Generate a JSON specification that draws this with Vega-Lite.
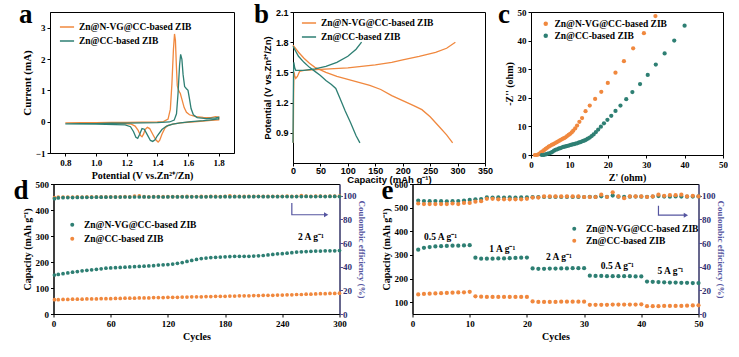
{
  "$schema": "https://vega.github.io/schema/vega-lite/v6.json",
  "padding": {"left": 12, "top": 0, "right": 0, "bottom": 0},
  "background": "white",
  "config": {
    "view": {"stroke": "black", "strokeWidth": 1},
    "font": "Liberation Serif",
    "axis": {"grid": false, "domainColor": "black", "tickColor": "black", "labelColor": "black", "titleColor": "black", "labelFont": "Liberation Serif", "titleFont": "Liberation Serif", "labelFontWeight": "bold", "titleFontWeight": "bold", "labelFontSize": 9, "titleFontSize": 10, "tickSize": 3, "labelPadding": 2, "titlePadding": 3, "labelFlush": false, "labelOverlap": false},
    "legend": {"orient": "none", "labelFont": "Liberation Serif", "labelFontWeight": "bold", "labelFontSize": 9.5, "labelColor": "black", "padding": 0, "rowPadding": 1, "labelOffset": 4},
    "text": {"font": "Liberation Serif", "fontWeight": "bold", "fontSize": 9.5, "color": "black"}
  },
  "datasets": {
    "cv": [
      {"s":"N","i":0,"v":0.80,"a":-0.04},{"s":"N","i":1,"v":0.90,"a":-0.035},{"s":"N","i":2,"v":1.00,"a":-0.03},{"s":"N","i":3,"v":1.10,"a":-0.025},{"s":"N","i":4,"v":1.20,"a":-0.02},{"s":"N","i":5,"v":1.30,"a":-0.015},{"s":"N","i":6,"v":1.40,"a":-0.01},{"s":"N","i":7,"v":1.44,"a":0.0},{"s":"N","i":8,"v":1.47,"a":0.08},{"s":"N","i":9,"v":1.485,"a":0.4},{"s":"N","i":10,"v":1.495,"a":1.2},{"s":"N","i":11,"v":1.505,"a":2.3},{"s":"N","i":12,"v":1.512,"a":2.8},{"s":"N","i":13,"v":1.518,"a":2.6},{"s":"N","i":14,"v":1.524,"a":1.8},{"s":"N","i":15,"v":1.53,"a":1.15},{"s":"N","i":16,"v":1.54,"a":0.98},{"s":"N","i":17,"v":1.55,"a":0.9},{"s":"N","i":18,"v":1.56,"a":0.72},{"s":"N","i":19,"v":1.575,"a":0.45},{"s":"N","i":20,"v":1.59,"a":0.3},{"s":"N","i":21,"v":1.61,"a":0.22},{"s":"N","i":22,"v":1.65,"a":0.16},{"s":"N","i":23,"v":1.70,"a":0.14},{"s":"N","i":24,"v":1.75,"a":0.13},{"s":"N","i":25,"v":1.78,"a":0.16},{"s":"N","i":26,"v":1.80,"a":0.15},
      {"s":"N","i":27,"v":1.80,"a":0.06},{"s":"N","i":28,"v":1.75,"a":0.04},{"s":"N","i":29,"v":1.70,"a":0.02},{"s":"N","i":30,"v":1.62,"a":-0.01},{"s":"N","i":31,"v":1.55,"a":-0.04},{"s":"N","i":32,"v":1.50,"a":-0.08},{"s":"N","i":33,"v":1.47,"a":-0.12},{"s":"N","i":34,"v":1.45,"a":-0.2},{"s":"N","i":35,"v":1.43,"a":-0.4},{"s":"N","i":36,"v":1.415,"a":-0.6},{"s":"N","i":37,"v":1.405,"a":-0.65},{"s":"N","i":38,"v":1.39,"a":-0.58},{"s":"N","i":39,"v":1.37,"a":-0.4},{"s":"N","i":40,"v":1.35,"a":-0.22},{"s":"N","i":41,"v":1.335,"a":-0.18},{"s":"N","i":42,"v":1.32,"a":-0.25},{"s":"N","i":43,"v":1.31,"a":-0.4},{"s":"N","i":44,"v":1.30,"a":-0.48},{"s":"N","i":45,"v":1.29,"a":-0.44},{"s":"N","i":46,"v":1.275,"a":-0.28},{"s":"N","i":47,"v":1.255,"a":-0.14},{"s":"N","i":48,"v":1.23,"a":-0.08},{"s":"N","i":49,"v":1.15,"a":-0.05},{"s":"N","i":50,"v":1.0,"a":-0.045},{"s":"N","i":51,"v":0.8,"a":-0.04},
      {"s":"C","i":0,"v":0.80,"a":-0.07},{"s":"C","i":1,"v":0.90,"a":-0.065},{"s":"C","i":2,"v":1.00,"a":-0.06},{"s":"C","i":3,"v":1.10,"a":-0.05},{"s":"C","i":4,"v":1.20,"a":-0.045},{"s":"C","i":5,"v":1.30,"a":-0.04},{"s":"C","i":6,"v":1.40,"a":-0.03},{"s":"C","i":7,"v":1.48,"a":-0.01},{"s":"C","i":8,"v":1.51,"a":0.05},{"s":"C","i":9,"v":1.525,"a":0.25},{"s":"C","i":10,"v":1.535,"a":0.9},{"s":"C","i":11,"v":1.545,"a":1.8},{"s":"C","i":12,"v":1.552,"a":2.15},{"s":"C","i":13,"v":1.56,"a":2.0},{"s":"C","i":14,"v":1.568,"a":1.5},{"s":"C","i":15,"v":1.578,"a":1.12},{"s":"C","i":16,"v":1.59,"a":1.05},{"s":"C","i":17,"v":1.60,"a":1.0},{"s":"C","i":18,"v":1.61,"a":0.72},{"s":"C","i":19,"v":1.62,"a":0.42},{"s":"C","i":20,"v":1.635,"a":0.22},{"s":"C","i":21,"v":1.66,"a":0.13},{"s":"C","i":22,"v":1.72,"a":0.1},{"s":"C","i":23,"v":1.78,"a":0.12},{"s":"C","i":24,"v":1.80,"a":0.14},
      {"s":"C","i":25,"v":1.80,"a":0.09},{"s":"C","i":26,"v":1.75,"a":0.06},{"s":"C","i":27,"v":1.70,"a":0.03},{"s":"C","i":28,"v":1.62,"a":0.0},{"s":"C","i":29,"v":1.55,"a":-0.04},{"s":"C","i":30,"v":1.50,"a":-0.08},{"s":"C","i":31,"v":1.46,"a":-0.14},{"s":"C","i":32,"v":1.43,"a":-0.25},{"s":"C","i":33,"v":1.40,"a":-0.45},{"s":"C","i":34,"v":1.385,"a":-0.58},{"s":"C","i":35,"v":1.37,"a":-0.63},{"s":"C","i":36,"v":1.355,"a":-0.6},{"s":"C","i":37,"v":1.335,"a":-0.42},{"s":"C","i":38,"v":1.315,"a":-0.24},{"s":"C","i":39,"v":1.30,"a":-0.22},{"s":"C","i":40,"v":1.285,"a":-0.4},{"s":"C","i":41,"v":1.272,"a":-0.53},{"s":"C","i":42,"v":1.26,"a":-0.5},{"s":"C","i":43,"v":1.245,"a":-0.32},{"s":"C","i":44,"v":1.225,"a":-0.16},{"s":"C","i":45,"v":1.19,"a":-0.1},{"s":"C","i":46,"v":1.0,"a":-0.08},{"s":"C","i":47,"v":0.8,"a":-0.07}
    ],
    "gcd": [
      {"g":"N1","s":"N","x":0.5,"y":0.8},{"g":"N1","s":"N","x":1,"y":1.2},{"g":"N1","s":"N","x":1.5,"y":1.45},{"g":"N1","s":"N","x":2,"y":1.5},{"g":"N1","s":"N","x":3,"y":1.47},{"g":"N1","s":"N","x":5,"y":1.44},{"g":"N1","s":"N","x":8,"y":1.46},{"g":"N1","s":"N","x":12,"y":1.51},{"g":"N1","s":"N","x":20,"y":1.52},{"g":"N1","s":"N","x":50,"y":1.53},{"g":"N1","s":"N","x":100,"y":1.545},{"g":"N1","s":"N","x":150,"y":1.575},{"g":"N1","s":"N","x":180,"y":1.6},{"g":"N1","s":"N","x":200,"y":1.625},{"g":"N1","s":"N","x":230,"y":1.66},{"g":"N1","s":"N","x":260,"y":1.7},{"g":"N1","s":"N","x":280,"y":1.74},{"g":"N1","s":"N","x":296,"y":1.8},
      {"g":"N2","s":"N","x":0,"y":1.77},{"g":"N2","s":"N","x":10,"y":1.7},{"g":"N2","s":"N","x":20,"y":1.64},{"g":"N2","s":"N","x":30,"y":1.59},{"g":"N2","s":"N","x":40,"y":1.55},{"g":"N2","s":"N","x":60,"y":1.5},{"g":"N2","s":"N","x":80,"y":1.46},{"g":"N2","s":"N","x":100,"y":1.43},{"g":"N2","s":"N","x":120,"y":1.4},{"g":"N2","s":"N","x":140,"y":1.37},{"g":"N2","s":"N","x":160,"y":1.33},{"g":"N2","s":"N","x":180,"y":1.27},{"g":"N2","s":"N","x":200,"y":1.22},{"g":"N2","s":"N","x":220,"y":1.17},{"g":"N2","s":"N","x":235,"y":1.13},{"g":"N2","s":"N","x":250,"y":1.06},{"g":"N2","s":"N","x":265,"y":0.97},{"g":"N2","s":"N","x":280,"y":0.88},{"g":"N2","s":"N","x":291,"y":0.8},
      {"g":"C1","s":"C","x":0,"y":0.8},{"g":"C1","s":"C","x":0.5,"y":1.2},{"g":"C1","s":"C","x":1,"y":1.5},{"g":"C1","s":"C","x":1.5,"y":1.6},{"g":"C1","s":"C","x":3,"y":1.55},{"g":"C1","s":"C","x":5,"y":1.52},{"g":"C1","s":"C","x":20,"y":1.52},{"g":"C1","s":"C","x":40,"y":1.535},{"g":"C1","s":"C","x":60,"y":1.56},{"g":"C1","s":"C","x":80,"y":1.6},{"g":"C1","s":"C","x":100,"y":1.66},{"g":"C1","s":"C","x":115,"y":1.73},{"g":"C1","s":"C","x":125,"y":1.8},
      {"g":"C2","s":"C","x":0,"y":1.76},{"g":"C2","s":"C","x":10,"y":1.66},{"g":"C2","s":"C","x":20,"y":1.6},{"g":"C2","s":"C","x":30,"y":1.55},{"g":"C2","s":"C","x":40,"y":1.51},{"g":"C2","s":"C","x":50,"y":1.47},{"g":"C2","s":"C","x":60,"y":1.42},{"g":"C2","s":"C","x":70,"y":1.38},{"g":"C2","s":"C","x":78,"y":1.34},{"g":"C2","s":"C","x":85,"y":1.25},{"g":"C2","s":"C","x":95,"y":1.12},{"g":"C2","s":"C","x":105,"y":1.0},{"g":"C2","s":"C","x":115,"y":0.87},{"g":"C2","s":"C","x":122,"y":0.8}
    ],
    "eis": [
      {"s":"N","x":1.0,"y":0},{"s":"N","x":1.4,"y":0},{"s":"N","x":1.8,"y":0.1},{"s":"N","x":2.2,"y":0.5},{"s":"N","x":2.6,"y":0.9},{"s":"N","x":3.0,"y":1.3},{"s":"N","x":3.4,"y":1.7},{"s":"N","x":3.8,"y":2.1},{"s":"N","x":4.2,"y":2.5},{"s":"N","x":4.6,"y":2.9},{"s":"N","x":5.0,"y":3.2},{"s":"N","x":5.4,"y":3.5},{"s":"N","x":5.8,"y":3.8},{"s":"N","x":6.2,"y":4.1},{"s":"N","x":6.6,"y":4.4},{"s":"N","x":7.0,"y":4.7},{"s":"N","x":7.4,"y":5.0},{"s":"N","x":7.8,"y":5.3},{"s":"N","x":8.2,"y":5.6},{"s":"N","x":8.6,"y":5.9},{"s":"N","x":9.0,"y":6.2},{"s":"N","x":9.4,"y":6.6},{"s":"N","x":9.8,"y":7.0},{"s":"N","x":10.2,"y":7.4},{"s":"N","x":10.6,"y":7.9},{"s":"N","x":11.0,"y":8.5},{"s":"N","x":11.5,"y":9.3},{"s":"N","x":12.0,"y":10.3},{"s":"N","x":12.6,"y":11.6},{"s":"N","x":13.3,"y":12.9},{"s":"N","x":14.2,"y":15.3},{"s":"N","x":15.3,"y":17.3},{"s":"N","x":16.7,"y":19.6},{"s":"N","x":18.3,"y":22.1},{"s":"N","x":20.0,"y":25.2},{"s":"N","x":22.0,"y":28.8},{"s":"N","x":24.2,"y":32.8},{"s":"N","x":26.6,"y":37.3},{"s":"N","x":29.4,"y":42.6},{"s":"N","x":32.4,"y":48.6},
      {"s":"C","x":2.8,"y":0},{"s":"C","x":3.2,"y":0},{"s":"C","x":3.6,"y":0.1},{"s":"C","x":4.0,"y":0.3},{"s":"C","x":4.4,"y":0.5},{"s":"C","x":4.8,"y":0.6},{"s":"C","x":5.2,"y":0.8},{"s":"C","x":5.6,"y":1.1},{"s":"C","x":6.0,"y":1.5},{"s":"C","x":6.4,"y":1.8},{"s":"C","x":6.8,"y":2.0},{"s":"C","x":7.2,"y":2.2},{"s":"C","x":7.6,"y":2.4},{"s":"C","x":8.0,"y":2.6},{"s":"C","x":8.4,"y":2.8},{"s":"C","x":8.8,"y":2.9},{"s":"C","x":9.2,"y":3.1},{"s":"C","x":9.6,"y":3.2},{"s":"C","x":10.0,"y":3.4},{"s":"C","x":10.4,"y":3.5},{"s":"C","x":10.8,"y":3.7},{"s":"C","x":11.2,"y":3.8},{"s":"C","x":11.6,"y":4.0},{"s":"C","x":12.0,"y":4.1},{"s":"C","x":12.4,"y":4.3},{"s":"C","x":12.8,"y":4.5},{"s":"C","x":13.2,"y":4.7},{"s":"C","x":13.6,"y":4.9},{"s":"C","x":14.0,"y":5.1},{"s":"C","x":14.4,"y":5.4},{"s":"C","x":14.8,"y":5.7},{"s":"C","x":15.3,"y":6.1},{"s":"C","x":15.8,"y":6.6},{"s":"C","x":16.3,"y":7.2},{"s":"C","x":16.9,"y":8.0},{"s":"C","x":17.5,"y":8.9},{"s":"C","x":18.2,"y":9.9},{"s":"C","x":19.0,"y":11.1},{"s":"C","x":19.9,"y":12.3},{"s":"C","x":20.9,"y":13.7},{"s":"C","x":22.0,"y":15.4},{"s":"C","x":23.3,"y":17.3},{"s":"C","x":24.8,"y":19.5},{"s":"C","x":26.4,"y":22.0},{"s":"C","x":28.4,"y":24.8},{"s":"C","x":30.4,"y":28.0},{"s":"C","x":32.5,"y":31.6},{"s":"C","x":34.8,"y":35.5},{"s":"C","x":37.3,"y":40.0},{"s":"C","x":40.0,"y":45.2}
    ],
    "cyc": [
      {"s":"C","c":1,"cap":55,"ce":98.4},{"s":"C","c":5,"cap":55,"ce":98.8},{"s":"C","c":10,"cap":56,"ce":98.9},{"s":"C","c":15,"cap":56,"ce":99.0},{"s":"C","c":20,"cap":57,"ce":99.0},{"s":"C","c":25,"cap":57,"ce":99.1},{"s":"C","c":30,"cap":57,"ce":99.0},{"s":"C","c":35,"cap":58,"ce":99.1},{"s":"C","c":40,"cap":58,"ce":99.1},{"s":"C","c":45,"cap":58,"ce":99.2},
      {"s":"C","c":50,"cap":59,"ce":99.1},{"s":"C","c":55,"cap":59,"ce":99.2},{"s":"C","c":60,"cap":59,"ce":99.2},{"s":"C","c":65,"cap":60,"ce":99.1},{"s":"C","c":70,"cap":60,"ce":99.2},{"s":"C","c":75,"cap":61,"ce":99.3},{"s":"C","c":80,"cap":61,"ce":99.2},{"s":"C","c":85,"cap":61,"ce":99.8},{"s":"C","c":90,"cap":62,"ce":99.9},{"s":"C","c":95,"cap":62,"ce":99.3},
      {"s":"C","c":100,"cap":62,"ce":99.2},{"s":"C","c":105,"cap":63,"ce":99.3},{"s":"C","c":110,"cap":63,"ce":99.4},{"s":"C","c":115,"cap":63,"ce":99.3},{"s":"C","c":120,"cap":64,"ce":99.4},{"s":"C","c":125,"cap":64,"ce":99.3},{"s":"C","c":130,"cap":64,"ce":99.4},{"s":"C","c":135,"cap":65,"ce":99.4},{"s":"C","c":140,"cap":65,"ce":99.5},{"s":"C","c":145,"cap":66,"ce":99.4},
      {"s":"C","c":150,"cap":66,"ce":99.4},{"s":"C","c":155,"cap":66,"ce":99.5},{"s":"C","c":160,"cap":67,"ce":99.4},{"s":"C","c":165,"cap":67,"ce":99.5},{"s":"C","c":170,"cap":68,"ce":99.5},{"s":"C","c":175,"cap":68,"ce":99.4},{"s":"C","c":180,"cap":68,"ce":99.5},{"s":"C","c":185,"cap":69,"ce":99.9},{"s":"C","c":190,"cap":69,"ce":99.5},{"s":"C","c":195,"cap":70,"ce":99.5},
      {"s":"C","c":200,"cap":70,"ce":99.5},{"s":"C","c":205,"cap":70,"ce":99.6},{"s":"C","c":210,"cap":71,"ce":99.5},{"s":"C","c":215,"cap":71,"ce":99.6},{"s":"C","c":220,"cap":72,"ce":99.6},{"s":"C","c":225,"cap":72,"ce":99.5},{"s":"C","c":230,"cap":72,"ce":99.6},{"s":"C","c":235,"cap":73,"ce":99.6},{"s":"C","c":240,"cap":73,"ce":99.6},{"s":"C","c":245,"cap":74,"ce":99.7},
      {"s":"C","c":250,"cap":74,"ce":99.6},{"s":"C","c":255,"cap":75,"ce":99.6},{"s":"C","c":260,"cap":75,"ce":100.1},{"s":"C","c":265,"cap":76,"ce":99.7},{"s":"C","c":270,"cap":76,"ce":99.6},{"s":"C","c":275,"cap":77,"ce":99.7},{"s":"C","c":280,"cap":78,"ce":99.7},{"s":"C","c":285,"cap":78,"ce":99.6},{"s":"C","c":290,"cap":79,"ce":99.7},{"s":"C","c":295,"cap":79,"ce":99.7},{"s":"C","c":300,"cap":80,"ce":99.7},
      {"s":"N","c":1,"cap":150,"ce":97.6},{"s":"N","c":5,"cap":152,"ce":98.2},{"s":"N","c":10,"cap":155,"ce":98.4},{"s":"N","c":15,"cap":158,"ce":98.5},{"s":"N","c":20,"cap":161,"ce":98.5},{"s":"N","c":25,"cap":163,"ce":98.6},{"s":"N","c":30,"cap":166,"ce":98.6},{"s":"N","c":35,"cap":168,"ce":98.7},{"s":"N","c":40,"cap":170,"ce":98.7},{"s":"N","c":45,"cap":172,"ce":98.8},
      {"s":"N","c":50,"cap":174,"ce":98.8},{"s":"N","c":55,"cap":176,"ce":98.8},{"s":"N","c":60,"cap":177,"ce":98.9},{"s":"N","c":65,"cap":178,"ce":98.9},{"s":"N","c":70,"cap":179,"ce":98.9},{"s":"N","c":75,"cap":180,"ce":99.0},{"s":"N","c":80,"cap":181,"ce":98.9},{"s":"N","c":85,"cap":182,"ce":99.0},{"s":"N","c":90,"cap":183,"ce":99.0},{"s":"N","c":95,"cap":184,"ce":99.1},
      {"s":"N","c":100,"cap":185,"ce":99.0},{"s":"N","c":105,"cap":186,"ce":99.1},{"s":"N","c":110,"cap":188,"ce":99.1},{"s":"N","c":115,"cap":189,"ce":99.0},{"s":"N","c":120,"cap":190,"ce":99.1},{"s":"N","c":125,"cap":192,"ce":99.2},{"s":"N","c":130,"cap":195,"ce":99.1},{"s":"N","c":135,"cap":198,"ce":99.2},{"s":"N","c":140,"cap":202,"ce":99.1},{"s":"N","c":145,"cap":206,"ce":99.2},
      {"s":"N","c":150,"cap":210,"ce":99.2},{"s":"N","c":155,"cap":213,"ce":99.1},{"s":"N","c":160,"cap":215,"ce":99.2},{"s":"N","c":165,"cap":217,"ce":99.3},{"s":"N","c":170,"cap":218,"ce":99.2},{"s":"N","c":175,"cap":219,"ce":99.2},{"s":"N","c":180,"cap":220,"ce":99.3},{"s":"N","c":185,"cap":221,"ce":99.2},{"s":"N","c":190,"cap":222,"ce":99.3},{"s":"N","c":195,"cap":222,"ce":99.3},
      {"s":"N","c":200,"cap":222,"ce":99.2},{"s":"N","c":205,"cap":222,"ce":99.3},{"s":"N","c":210,"cap":223,"ce":99.3},{"s":"N","c":215,"cap":224,"ce":99.4},{"s":"N","c":220,"cap":225,"ce":99.3},{"s":"N","c":225,"cap":227,"ce":99.3},{"s":"N","c":230,"cap":229,"ce":99.4},{"s":"N","c":235,"cap":231,"ce":99.3},{"s":"N","c":240,"cap":232,"ce":99.4},{"s":"N","c":245,"cap":234,"ce":99.4},
      {"s":"N","c":250,"cap":236,"ce":99.3},{"s":"N","c":255,"cap":238,"ce":99.4},{"s":"N","c":260,"cap":239,"ce":99.4},{"s":"N","c":265,"cap":240,"ce":99.5},{"s":"N","c":270,"cap":241,"ce":99.4},{"s":"N","c":275,"cap":242,"ce":99.4},{"s":"N","c":280,"cap":242,"ce":99.5},{"s":"N","c":285,"cap":243,"ce":99.4},{"s":"N","c":290,"cap":243,"ce":99.5},{"s":"N","c":295,"cap":243,"ce":99.5},{"s":"N","c":300,"cap":244,"ce":99.4}
    ],
    "rate": [
      {"s":"N","c":1,"cap":322,"ce":96.0},{"s":"N","c":2,"cap":330,"ce":95.6},{"s":"N","c":3,"cap":333,"ce":95.5},{"s":"N","c":4,"cap":336,"ce":95.6},{"s":"N","c":5,"cap":337,"ce":95.5},{"s":"N","c":6,"cap":338,"ce":95.4},{"s":"N","c":7,"cap":339,"ce":95.5},{"s":"N","c":8,"cap":339,"ce":95.6},{"s":"N","c":9,"cap":340,"ce":96.0},{"s":"N","c":10,"cap":341,"ce":96.5},
      {"s":"N","c":11,"cap":288,"ce":97.0},{"s":"N","c":12,"cap":284,"ce":97.3},{"s":"N","c":13,"cap":284,"ce":98.6},{"s":"N","c":14,"cap":284,"ce":98.5},{"s":"N","c":15,"cap":285,"ce":98.6},{"s":"N","c":16,"cap":285,"ce":98.5},{"s":"N","c":17,"cap":286,"ce":98.6},{"s":"N","c":18,"cap":287,"ce":98.5},{"s":"N","c":19,"cap":288,"ce":98.6},{"s":"N","c":20,"cap":289,"ce":98.6},
      {"s":"N","c":21,"cap":243,"ce":98.8},{"s":"N","c":22,"cap":241,"ce":98.9},{"s":"N","c":23,"cap":241,"ce":99.0},{"s":"N","c":24,"cap":242,"ce":99.0},{"s":"N","c":25,"cap":242,"ce":99.1},{"s":"N","c":26,"cap":243,"ce":99.0},{"s":"N","c":27,"cap":243,"ce":99.1},{"s":"N","c":28,"cap":244,"ce":99.0},{"s":"N","c":29,"cap":244,"ce":99.1},{"s":"N","c":30,"cap":244,"ce":99.0},
      {"s":"N","c":31,"cap":212,"ce":99.2},{"s":"N","c":32,"cap":211,"ce":99.1},{"s":"N","c":33,"cap":211,"ce":99.6},{"s":"N","c":34,"cap":210,"ce":99.2},{"s":"N","c":35,"cap":210,"ce":100.2},{"s":"N","c":36,"cap":210,"ce":99.3},{"s":"N","c":37,"cap":210,"ce":99.1},{"s":"N","c":38,"cap":210,"ce":99.3},{"s":"N","c":39,"cap":209,"ce":99.4},{"s":"N","c":40,"cap":209,"ce":99.3},
      {"s":"N","c":41,"cap":187,"ce":99.2},{"s":"N","c":42,"cap":186,"ce":99.4},{"s":"N","c":43,"cap":185,"ce":99.8},{"s":"N","c":44,"cap":184,"ce":99.4},{"s":"N","c":45,"cap":183,"ce":99.3},{"s":"N","c":46,"cap":183,"ce":99.5},{"s":"N","c":47,"cap":182,"ce":99.4},{"s":"N","c":48,"cap":182,"ce":99.3},{"s":"N","c":49,"cap":181,"ce":99.4},{"s":"N","c":50,"cap":181,"ce":99.5},
      {"s":"C","c":1,"cap":133,"ce":93.5},{"s":"C","c":2,"cap":135,"ce":93.0},{"s":"C","c":3,"cap":136,"ce":93.0},{"s":"C","c":4,"cap":137,"ce":93.0},{"s":"C","c":5,"cap":138,"ce":93.0},{"s":"C","c":6,"cap":139,"ce":93.0},{"s":"C","c":7,"cap":140,"ce":93.5},{"s":"C","c":8,"cap":141,"ce":93.0},{"s":"C","c":9,"cap":142,"ce":94.0},{"s":"C","c":10,"cap":144,"ce":94.0},
      {"s":"C","c":11,"cap":125,"ce":95.0},{"s":"C","c":12,"cap":123,"ce":95.5},{"s":"C","c":13,"cap":122,"ce":97.5},{"s":"C","c":14,"cap":122,"ce":97.5},{"s":"C","c":15,"cap":122,"ce":97.0},{"s":"C","c":16,"cap":122,"ce":97.0},{"s":"C","c":17,"cap":122,"ce":97.0},{"s":"C","c":18,"cap":122,"ce":97.0},{"s":"C","c":19,"cap":122,"ce":97.0},{"s":"C","c":20,"cap":122,"ce":97.5},
      {"s":"C","c":21,"cap":103,"ce":98.5},{"s":"C","c":22,"cap":101,"ce":98.5},{"s":"C","c":23,"cap":101,"ce":99.5},{"s":"C","c":24,"cap":101,"ce":99.5},{"s":"C","c":25,"cap":101,"ce":99.5},{"s":"C","c":26,"cap":102,"ce":99.5},{"s":"C","c":27,"cap":102,"ce":99.5},{"s":"C","c":28,"cap":102,"ce":99.5},{"s":"C","c":29,"cap":102,"ce":99.5},{"s":"C","c":30,"cap":102,"ce":99.0},
      {"s":"C","c":31,"cap":89,"ce":99.0},{"s":"C","c":32,"cap":89,"ce":99.0},{"s":"C","c":33,"cap":89,"ce":101.0},{"s":"C","c":34,"cap":89,"ce":99.0},{"s":"C","c":35,"cap":90,"ce":103.0},{"s":"C","c":36,"cap":90,"ce":99.5},{"s":"C","c":37,"cap":90,"ce":98.0},{"s":"C","c":38,"cap":90,"ce":99.5},{"s":"C","c":39,"cap":90,"ce":99.5},{"s":"C","c":40,"cap":91,"ce":99.5},
      {"s":"C","c":41,"cap":83,"ce":99.0},{"s":"C","c":42,"cap":83,"ce":99.5},{"s":"C","c":43,"cap":83,"ce":101.0},{"s":"C","c":44,"cap":84,"ce":100.0},{"s":"C","c":45,"cap":84,"ce":100.5},{"s":"C","c":46,"cap":84,"ce":100.5},{"s":"C","c":47,"cap":84,"ce":101.0},{"s":"C","c":48,"cap":85,"ce":99.5},{"s":"C","c":49,"cap":86,"ce":100.0},{"s":"C","c":50,"cap":87,"ce":99.5}
    ],
    "dann": [{"c":270,"cap":296,"t":"2 A g⁻¹"}],
    "darr": [{"k":0,"c":250,"ce":94},{"k":1,"c":250,"ce":84},{"k":2,"c":286,"ce":84}],
    "eann": [{"c":4.9,"cap":376,"t":"0.5 A g⁻¹"},{"c":15.7,"cap":326,"t":"1 A g⁻¹"},{"c":25.6,"cap":291,"t":"2 A g⁻¹"},{"c":35.8,"cap":251,"t":"0.5 A g⁻¹"},{"c":45.1,"cap":230,"t":"5 A g⁻¹"}],
    "earr": [{"k":0,"c":43,"ce":91.5},{"k":1,"c":43,"ce":83.6},{"k":2,"c":47.8,"ce":83.6}]
  },
  "spacing": -15,
  "center": true,
  "resolve": {"scale": {"color": "independent"}, "legend": {"color": "independent"}},
  "vconcat": [
    {
      "spacing": 18,
      "resolve": {"scale": {"color": "independent"}, "legend": {"color": "independent"}},
      "hconcat": [
        {
          "width": 184, "height": 141,
          "encoding": {
            "x": {"field": "v", "type": "quantitative", "scale": {"domain": [0.7, 1.9], "nice": false, "zero": false}, "axis": {"values": [0.8, 1.0, 1.2, 1.4, 1.6, 1.8], "format": ".1f", "title": "Potential (V vs.Zn²⁺/Zn)"}},
            "y": {"field": "a", "type": "quantitative", "scale": {"domain": [-1, 3.5], "nice": false, "zero": false}, "axis": {"values": [-1, 0, 1, 2, 3], "title": "Current (mA)", "titleFontSize": 11}}
          },
          "layer": [
            {
              "data": {"name": "cv"},
              "mark": {"type": "line", "strokeWidth": 1.3},
              "encoding": {
                "order": {"field": "i"},
                "color": {"field": "s", "type": "nominal", "scale": {"domain": ["N", "C"], "range": ["#F0883E", "#2E7F73"]}, "legend": {"title": null, "legendX": 9, "legendY": 7, "symbolType": "stroke", "symbolSize": 200, "symbolStrokeWidth": 1.5, "labelExpr": "datum.value == 'N' ? 'Zn@N-VG@CC-based ZIB' : 'Zn@CC-based ZIB'"}}
              }
            },
            {
              "data": {"values": [{"v": 0.498, "a": 3.147, "t": "a"}]},
              "mark": {"type": "text", "align": "left", "baseline": "alphabetic", "fontSize": 27, "fontWeight": "bold", "font": "Liberation Serif"},
              "encoding": {"text": {"field": "t"}}
            }
          ]
        },
        {
          "spacing": 3,
          "resolve": {"scale": {"color": "independent"}, "legend": {"color": "independent"}},
          "hconcat": [
            {
              "width": 192, "height": 151,
              "encoding": {
                "x": {"field": "x", "type": "quantitative", "scale": {"domain": [0, 350], "nice": false}, "axis": {"values": [0, 50, 100, 150, 200, 250, 300, 350], "title": "Capacity (mAh g⁻¹)", "labelFont": "Liberation Sans", "titleFont": "Liberation Sans", "labelFontSize": 9, "titleFontSize": 9.5, "labelPadding": 0, "titlePadding": -1}},
                "y": {"field": "y", "type": "quantitative", "scale": {"domain": [0.6, 2.1], "nice": false, "zero": false}, "axis": {"values": [0.9, 1.2, 1.5, 1.8, 2.1], "format": ".1f", "title": "Potential (V vs.Zn²⁺/Zn)", "labelFont": "Liberation Sans", "titleFont": "Liberation Sans", "labelFontSize": 9, "titleFontSize": 9.5}}
              },
              "layer": [
                {
                  "data": {"name": "gcd"},
                  "mark": {"type": "line", "strokeWidth": 1.3},
                  "encoding": {
                    "detail": {"field": "g"},
                    "color": {"field": "s", "type": "nominal", "scale": {"domain": ["N", "C"], "range": ["#F0883E", "#2E7F73"]}, "legend": {"title": null, "legendX": 8, "legendY": 3, "symbolType": "stroke", "symbolSize": 200, "symbolStrokeWidth": 1.5, "labelExpr": "datum.value == 'N' ? 'Zn@N-VG@CC-based ZIB' : 'Zn@CC-based ZIB'"}}
                  }
                },
                {
                  "data": {"values": [{"x": -71, "y": 1.991, "t": "b"}]},
                  "mark": {"type": "text", "align": "left", "baseline": "alphabetic", "fontSize": 27, "fontWeight": "bold", "font": "Liberation Serif"},
                  "encoding": {"text": {"field": "t"}}
                }
              ]
            },
            {
              "width": 192, "height": 143,
              "encoding": {
                "x": {"field": "x", "type": "quantitative", "scale": {"domain": [0, 50], "nice": false}, "axis": {"values": [0, 10, 20, 30, 40, 50], "title": "Z' (ohm)"}},
                "y": {"field": "y", "type": "quantitative", "scale": {"domain": [0, 50], "nice": false}, "axis": {"values": [0, 10, 20, 30, 40, 50], "title": "-Z'' (ohm)"}}
              },
              "layer": [
                {
                  "data": {"name": "eis"},
                  "mark": {"type": "circle", "size": 18, "opacity": 1},
                  "encoding": {
                    "color": {"field": "s", "type": "nominal", "scale": {"domain": ["N", "C"], "range": ["#F0883E", "#2E7F73"]}, "legend": {"title": null, "legendX": 10, "legendY": 7, "symbolType": "circle", "symbolSize": 20, "labelExpr": "datum.value == 'N' ? 'Zn@N-VG@CC-based ZIB' : 'Zn@CC-based ZIB'"}}
                  }
                },
                {
                  "data": {"values": [{"x": -8.6, "y": 46.2, "t": "c"}]},
                  "mark": {"type": "text", "align": "left", "baseline": "alphabetic", "fontSize": 27, "fontWeight": "bold", "font": "Liberation Serif"},
                  "encoding": {"text": {"field": "t"}}
                }
              ]
            }
          ]
        }
      ]
    },
    {
      "spacing": 15,
      "resolve": {"scale": {"color": "independent"}, "legend": {"color": "independent"}},
      "hconcat": [
        {
          "width": 286, "height": 130,
          "encoding": {
            "x": {"field": "c", "type": "quantitative", "scale": {"domain": [0, 300], "nice": false}, "axis": {"values": [0, 60, 120, 180, 240, 300], "title": "Cycles"}}
          },
          "layer": [
            {
              "encoding": {
                "y": {"field": "cap", "type": "quantitative", "scale": {"domain": [0, 500], "nice": false}, "axis": {"values": [0, 100, 200, 300, 400, 500], "title": "Capacity (mAh g⁻¹)"}}
              },
              "layer": [
                {
                  "data": {"name": "cyc"},
                  "mark": {"type": "circle", "size": 14, "opacity": 1},
                  "encoding": {
                    "color": {"field": "s", "type": "nominal", "scale": {"domain": ["N", "C"], "range": ["#2E7F73", "#F0883E"]}, "legend": {"title": null, "legendX": 14, "legendY": 36, "symbolType": "circle", "symbolSize": 16, "rowPadding": 3, "labelOffset": 7, "labelExpr": "datum.value == 'N' ? 'Zn@N-VG@CC-based ZIB' : 'Zn@CC-based ZIB'"}}
                  }
                },
                {
                  "data": {"name": "dann"},
                  "mark": {"type": "text"},
                  "encoding": {"text": {"field": "t"}}
                },
                {
                  "data": {"values": [{"c": -42, "cap": 442, "t": "d"}]},
                  "mark": {"type": "text", "align": "left", "baseline": "alphabetic", "fontSize": 27, "fontWeight": "bold", "font": "Liberation Serif"},
                  "encoding": {"text": {"field": "t"}}
                }
              ]
            },
            {
              "encoding": {
                "y": {"field": "ce", "type": "quantitative", "scale": {"domain": [0, 110], "nice": false}, "axis": {"orient": "right", "values": [0, 20, 40, 60, 80, 100], "title": "Coulombic efficiency (%)", "titleFontSize": 9, "labelPadding": 0, "titlePadding": 0, "domainColor": "#4E4E9A", "tickColor": "#4E4E9A", "labelColor": "#2F2F6F", "titleColor": "#5555A0"}}
              },
              "layer": [
                {
                  "data": {"name": "cyc"},
                  "mark": {"type": "circle", "size": 14, "opacity": 1},
                  "encoding": {"color": {"field": "s", "type": "nominal"}}
                },
                {
                  "data": {"name": "darr"},
                  "mark": {"type": "line", "color": "#5555A0", "strokeWidth": 1.2},
                  "encoding": {"order": {"field": "k"}}
                },
                {
                  "data": {"name": "darr"},
                  "transform": [{"filter": "datum.k == 2"}],
                  "mark": {"type": "point", "shape": "triangle-right", "filled": true, "color": "#5555A0", "size": 25, "opacity": 1}
                }
              ]
            }
          ],
          "resolve": {"scale": {"y": "independent"}}
        },
        {
          "width": 286, "height": 130,
          "encoding": {
            "x": {"field": "c", "type": "quantitative", "scale": {"domain": [0, 50], "nice": false}, "axis": {"values": [0, 10, 20, 30, 40, 50], "title": "Cycles"}}
          },
          "layer": [
            {
              "encoding": {
                "y": {"field": "cap", "type": "quantitative", "scale": {"domain": [50, 600], "nice": false, "zero": false}, "axis": {"values": [100, 200, 300, 400, 500, 600], "title": "Capacity (mAh g⁻¹)"}}
              },
              "layer": [
                {
                  "data": {"name": "rate"},
                  "mark": {"type": "circle", "size": 18, "opacity": 1},
                  "encoding": {
                    "color": {"field": "s", "type": "nominal", "scale": {"domain": ["N", "C"], "range": ["#2E7F73", "#F0883E"]}, "legend": {"title": null, "legendX": 157, "legendY": 40, "symbolType": "circle", "symbolSize": 16, "rowPadding": 1, "labelOffset": 7, "labelExpr": "datum.value == 'N' ? 'Zn@N-VG@CC-based ZIB' : 'Zn@CC-based ZIB'"}}
                  }
                },
                {
                  "data": {"name": "eann"},
                  "mark": {"type": "text"},
                  "encoding": {"text": {"field": "t"}}
                },
                {
                  "data": {"values": [{"c": -5.4, "cap": 536, "t": "e"}]},
                  "mark": {"type": "text", "align": "left", "baseline": "alphabetic", "fontSize": 27, "fontWeight": "bold", "font": "Liberation Serif"},
                  "encoding": {"text": {"field": "t"}}
                }
              ]
            },
            {
              "encoding": {
                "y": {"field": "ce", "type": "quantitative", "scale": {"domain": [0, 110], "nice": false}, "axis": {"orient": "right", "values": [0, 20, 40, 60, 80, 100], "title": "Coulombic efficiency (%)", "titleFontSize": 9, "labelPadding": 0, "titlePadding": 0, "domainColor": "#4E4E9A", "tickColor": "#4E4E9A", "labelColor": "#2F2F6F", "titleColor": "#5555A0"}}
              },
              "layer": [
                {
                  "data": {"name": "rate"},
                  "mark": {"type": "circle", "size": 18, "opacity": 1},
                  "encoding": {"color": {"field": "s", "type": "nominal"}}
                },
                {
                  "data": {"name": "earr"},
                  "mark": {"type": "line", "color": "#5555A0", "strokeWidth": 1.2},
                  "encoding": {"order": {"field": "k"}}
                },
                {
                  "data": {"name": "earr"},
                  "transform": [{"filter": "datum.k == 2"}],
                  "mark": {"type": "point", "shape": "triangle-right", "filled": true, "color": "#5555A0", "size": 25, "opacity": 1}
                }
              ]
            }
          ],
          "resolve": {"scale": {"y": "independent"}}
        }
      ]
    }
  ]
}
